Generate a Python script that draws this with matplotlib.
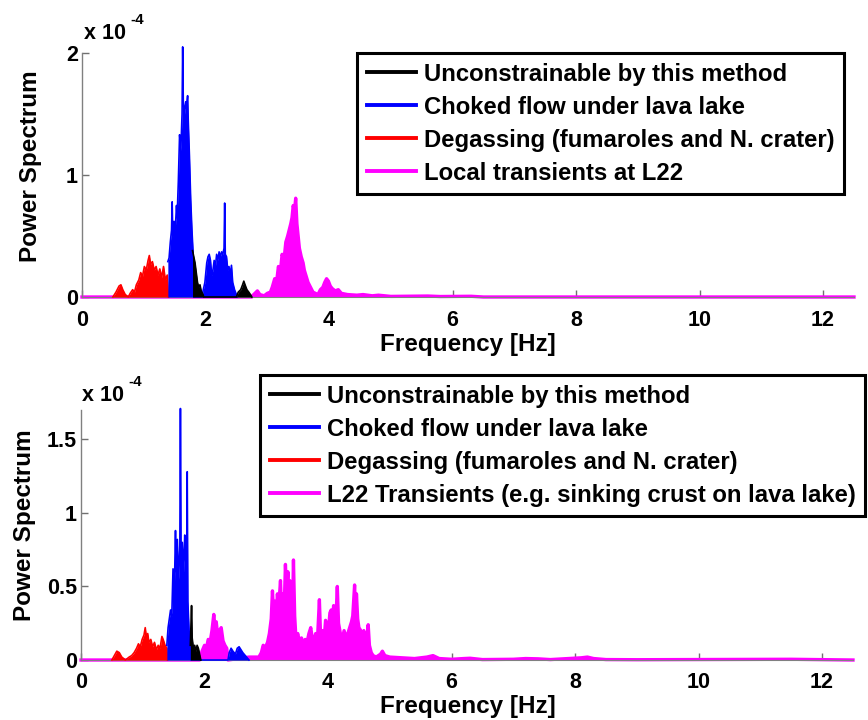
import matplotlib
matplotlib.use('Agg')
import matplotlib.pyplot as plt
import numpy as np

plt.rcParams['font.family'] = ['Liberation Sans', 'DejaVu Sans']
plt.rcParams['font.weight'] = 'bold'

# ---------------- data (power in units of 1e-4) ----------------
top_red_f = [0.50, 0.55, 0.60, 0.63, 0.66, 0.70, 0.75, 0.78, 0.82, 0.85, 0.88, 0.92, 0.95, 0.98,
             1.01, 1.04, 1.07, 1.09, 1.11, 1.14, 1.17, 1.20, 1.23, 1.26, 1.29, 1.32, 1.35, 1.38, 1.40]
top_red_p = [0.00, 0.04, 0.09, 0.10, 0.06, 0.02, 0.00, 0.03, 0.06, 0.04, 0.10, 0.14, 0.20, 0.17,
             0.25, 0.22, 0.30, 0.34, 0.27, 0.29, 0.22, 0.25, 0.18, 0.23, 0.16, 0.25, 0.14, 0.18, 0.00]

top_blue_f = [1.39, 1.41, 1.43, 1.45, 1.46, 1.47, 1.49, 1.51, 1.53, 1.54, 1.56, 1.58, 1.60, 1.62,
              1.63, 1.64, 1.66, 1.68, 1.69, 1.71, 1.72, 1.74, 1.76, 1.78, 1.80, 1.81,
              1.95, 1.96, 1.99, 2.02, 2.04, 2.06, 2.08, 2.10, 2.12, 2.14, 2.16, 2.18, 2.20, 2.22,
              2.24, 2.26, 2.28, 2.30, 2.31, 2.32, 2.34, 2.36, 2.38, 2.40, 2.42, 2.44, 2.47, 2.50, 2.51]
top_blue_p = [0.29, 0.32, 0.45, 0.55, 0.78, 0.50, 0.62, 0.55, 0.75, 0.65, 0.95, 1.33, 1.20, 1.50,
              2.05, 1.60, 1.50, 1.60, 1.55, 1.65, 1.45, 1.15, 0.80, 0.55, 0.35, 0.00,
              0.00, 0.05, 0.12, 0.28, 0.33, 0.35, 0.30, 0.18, 0.22, 0.30, 0.25, 0.35, 0.30, 0.37,
              0.33, 0.37, 0.35, 0.40, 0.77, 0.35, 0.33, 0.22, 0.25, 0.18, 0.26, 0.12, 0.06, 0.02, 0.00]

top_black_f = [1.79, 1.81, 1.83, 1.85, 1.87, 1.89, 1.91, 1.93, 1.96, 1.97,
               2.50, 2.53, 2.57, 2.60, 2.62, 2.64, 2.67, 2.70, 2.74, 2.75]
top_black_p = [0.38, 0.33, 0.28, 0.20, 0.12, 0.08, 0.10, 0.05, 0.02, 0.00,
               0.00, 0.04, 0.06, 0.10, 0.13, 0.10, 0.06, 0.04, 0.01, 0.00]

top_mag_f = [0.00, 2.75, 2.76, 2.80, 2.84, 2.88, 2.95, 3.00, 3.05, 3.08, 3.12, 3.15, 3.18, 3.21,
             3.24, 3.27, 3.30, 3.33, 3.36, 3.38, 3.40, 3.42, 3.44, 3.46, 3.48, 3.50, 3.52, 3.55,
             3.58, 3.60, 3.63, 3.66, 3.70, 3.74, 3.78, 3.82, 3.86, 3.90, 3.93, 3.96, 3.99, 4.02,
             4.05, 4.10, 4.15, 4.20, 4.30, 4.45, 4.55, 4.70, 4.80, 5.00, 5.60, 5.80, 6.30, 6.50, 12.50]
top_mag_p = [0.00, 0.00, 0.01, 0.03, 0.05, 0.02, 0.01, 0.03, 0.04, 0.08, 0.15, 0.12, 0.25, 0.20,
             0.35, 0.30, 0.45, 0.50, 0.56, 0.60, 0.65, 0.75, 0.70, 0.81, 0.60, 0.50, 0.40, 0.33,
             0.28, 0.22, 0.17, 0.12, 0.08, 0.04, 0.03, 0.02, 0.06, 0.08, 0.12, 0.15, 0.13, 0.09,
             0.07, 0.05, 0.06, 0.03, 0.02, 0.015, 0.02, 0.01, 0.015, 0.005, 0.008, 0.004, 0.006, 0.00, 0.00]

bot_red_f = [0.50, 0.54, 0.58, 0.62, 0.66, 0.72, 0.78, 0.82, 0.86, 0.90, 0.93, 0.96, 0.99, 1.02,
             1.04, 1.06, 1.08, 1.10, 1.13, 1.16, 1.19, 1.22, 1.25, 1.28, 1.31, 1.33, 1.36, 1.39, 1.40]
bot_red_p = [0.00, 0.03, 0.06, 0.05, 0.02, 0.00, 0.02, 0.03, 0.05, 0.08, 0.11, 0.09, 0.14, 0.17,
             0.22, 0.15, 0.18, 0.12, 0.14, 0.09, 0.12, 0.07, 0.10, 0.08, 0.16, 0.14, 0.10, 0.08, 0.00]

bot_blue_f = [1.39, 1.41, 1.43, 1.45, 1.47, 1.49, 1.51, 1.53, 1.54, 1.56, 1.58, 1.60, 1.61, 1.62,
              1.64, 1.66, 1.68, 1.69, 1.71, 1.72, 1.73, 1.75, 1.77, 1.78,
              2.38, 2.40, 2.43, 2.46, 2.50, 2.53, 2.56, 2.59, 2.62, 2.66, 2.70, 2.72]
bot_blue_p = [0.10, 0.22, 0.28, 0.34, 0.30, 0.62, 0.45, 0.88, 0.60, 0.82, 0.55, 0.75, 1.71, 0.70,
              0.80, 0.60, 0.85, 0.70, 0.60, 1.28, 0.40, 0.20, 0.10, 0.00,
              0.00, 0.05, 0.08, 0.06, 0.04, 0.08, 0.09, 0.07, 0.05, 0.03, 0.01, 0.00]

bot_black_f = [1.77, 1.79, 1.80, 1.82, 1.84, 1.86, 1.88, 1.90, 1.92, 1.94]
bot_black_p = [0.10, 0.37, 0.15, 0.08, 0.10, 0.06, 0.10, 0.08, 0.04, 0.00]

bot_mag_f = [0.00, 1.92, 1.93, 1.96, 2.00, 2.03, 2.06, 2.09, 2.12, 2.15, 2.17, 2.19, 2.21, 2.24,
             2.27, 2.30, 2.33, 2.36, 2.38, 2.72, 2.80, 2.88, 2.92, 2.95, 2.98, 3.02, 3.05, 3.08,
             3.10, 3.12, 3.14, 3.16, 3.18, 3.20, 3.23, 3.25, 3.27, 3.29, 3.31, 3.33, 3.35, 3.37,
             3.38, 3.40, 3.42, 3.44, 3.46, 3.48, 3.51, 3.54, 3.57, 3.60, 3.63, 3.66, 3.69, 3.72,
             3.74, 3.77, 3.80, 3.83, 3.86, 3.88, 3.91, 3.94, 3.96, 3.98, 4.01, 4.03, 4.05, 4.07,
             4.09, 4.11, 4.13, 4.15, 4.17, 4.20, 4.23, 4.26, 4.29, 4.32, 4.35, 4.38, 4.40, 4.43,
             4.45, 4.46, 4.48, 4.50, 4.53, 4.55, 4.58, 4.60, 4.63, 4.65, 4.67, 4.70, 4.73, 4.78,
             4.85, 4.88, 4.92, 5.00, 5.20, 5.40, 5.60, 5.70, 5.80, 6.00, 6.20, 6.30, 6.50, 7.00,
             7.20, 7.40, 7.60, 8.10, 8.20, 8.30, 8.50, 9.00, 11.50, 12.50]
bot_mag_p = [0.00, 0.00, 0.02, 0.06, 0.10, 0.08, 0.14, 0.12, 0.20, 0.31, 0.22, 0.26, 0.18, 0.20,
             0.22, 0.13, 0.10, 0.08, 0.00, 0.02, 0.02, 0.02, 0.05, 0.10, 0.08, 0.12, 0.18, 0.28,
             0.47, 0.30, 0.40, 0.29, 0.45, 0.35, 0.54, 0.30, 0.45, 0.35, 0.65, 0.45, 0.60, 0.25,
             0.54, 0.30, 0.20, 0.68, 0.30, 0.15, 0.18, 0.12, 0.15, 0.11, 0.14, 0.12, 0.18, 0.22,
             0.16, 0.13, 0.18, 0.15, 0.41, 0.15, 0.20, 0.16, 0.27, 0.18, 0.22, 0.32, 0.34, 0.25,
             0.37, 0.28, 0.30, 0.50, 0.25, 0.18, 0.14, 0.20, 0.15, 0.18, 0.22, 0.26, 0.30, 0.51,
             0.25, 0.45, 0.28, 0.22, 0.20, 0.14, 0.20, 0.12, 0.15, 0.24, 0.10, 0.05, 0.03, 0.02,
             0.04, 0.06, 0.03, 0.02, 0.015, 0.01, 0.02, 0.03, 0.01, 0.005, 0.01, 0.012, 0.003, 0.005,
             0.01, 0.008, 0.003, 0.015, 0.02, 0.01, 0.003, 0.002, 0.005, 0.00]

top_labels = ['Unconstrainable by this method', 'Choked flow under lava lake',
              'Degassing (fumaroles and N. crater)', 'Local transients at L22']
bot_labels = ['Unconstrainable by this method', 'Choked flow under lava lake',
              'Degassing (fumaroles and N. crater)', 'L22 Transients (e.g. sinking crust on lava lake)']

x_ticks = [0, 2, 4, 6, 8, 10, 12]
top_yticks = [0, 1, 2]
top_yticklabels = ['0', '1', '2']
bot_yticks = [0, 0.5, 1, 1.5]
bot_yticklabels = ['0', '0.5', '1', '1.5']

COL = {'black': '#000000', 'blue': '#0000ff', 'red': '#ff0000', 'mag': '#ff00ff'}
SCALE = 1e-4

W, H = 868, 720
fig = plt.figure(figsize=(W / 100, H / 100), dpi=100)


def panel(rect, series, ylim, yticks, yticklabels, labels, leg_xy, ylab_xy, xlab_y, exp_xy):
    ax = fig.add_axes(rect)
    handles = {}
    for key, f, p, z in series:
        f = np.asarray(f)
        p = np.asarray(p) * SCALE
        lw = 2.4 if key == 'mag' else 1.2
        ax.fill_between(f, 0, p, color=COL[key], lw=0, zorder=z, clip_on=False)
        ln, = ax.plot(f, p, color=COL[key], lw=lw, zorder=z, clip_on=False)
        handles[key] = ln
    ax.set_xlim(0, 12.5)
    ax.set_ylim(ylim[0] * SCALE, ylim[1] * SCALE)
    ax.set_xticks(x_ticks)
    ax.set_xticklabels([str(t) for t in x_ticks])
    ax.set_yticks([t * SCALE for t in yticks])
    ax.set_yticklabels(yticklabels)
    for s in ['top', 'right']:
        ax.spines[s].set_visible(False)
    ax.spines['left'].set_color('#808080')
    ax.spines['left'].set_linewidth(1.0)
    ax.spines['bottom'].set_color('#808080')
    ax.tick_params(direction='in', length=5, width=1.0, color='#707070', labelsize=15.5)
    ax.tick_params(axis='x', pad=9)
    ax.tick_params(axis='y', pad=3)
    ax.set_xlabel('Frequency [Hz]', fontsize=17.5, fontweight='bold')
    ax.xaxis.label.set_va('center')
    ax.xaxis.set_label_coords((468 - rect[0] * W) / (rect[2] * W), xlab_y)
    ax.set_ylabel('Power Spectrum', fontsize=17.5, fontweight='bold')
    ax.yaxis.set_label_coords(*ylab_xy)
    # exponent label
    fig.text(exp_xy[0] / W, 1 - exp_xy[1] / H, 'x 10', fontsize=15.5, fontweight='bold',
             ha='left', va='baseline')
    fig.text((exp_xy[0] + 46) / W, 1 - (exp_xy[1] - 15) / H, '-4', fontsize=11, fontweight='bold',
             ha='left', va='baseline')
    leg = ax.legend([handles['black'], handles['blue'], handles['red'], handles['mag']], labels,
                    loc='upper left', bbox_to_anchor=(leg_xy[0] / W, 1 - leg_xy[1] / H),
                    bbox_transform=fig.transFigure, borderaxespad=0, fontsize=17.2,
                    handlelength=2.05, handletextpad=0.35, borderpad=0.40, labelspacing=0.42,
                    fancybox=False, framealpha=1, edgecolor='black')
    leg.get_frame().set_linewidth(2.2)
    for l in leg.get_lines():
        l.set_linewidth(2.8)
    for t in leg.get_texts():
        t.set_fontweight('bold')
    return ax


panel([82 / W, 1 - 297 / H, 772 / W, 244 / H],
      [('mag', top_mag_f, top_mag_p, 2), ('red', top_red_f, top_red_p, 3),
       ('blue', top_blue_f, top_blue_p, 3), ('black', top_black_f, top_black_p, 4)],
      (0, 2), top_yticks, top_yticklabels, top_labels, (357, 53), (-0.052, 0.537),
      (297 - 345) / 244, (84, 39))

panel([81 / W, 1 - 660 / H, 772 / W, 250 / H],
      [('mag', bot_mag_f, bot_mag_p, 2), ('red', bot_red_f, bot_red_p, 3),
       ('blue', bot_blue_f, bot_blue_p, 3), ('black', bot_black_f, bot_black_p, 4)],
      (0, 1.7), bot_yticks, bot_yticklabels, bot_labels, (260, 375), (-0.058, 0.54),
      (660 - 706) / 250, (82, 401))

fig.savefig('out.png', dpi=100)
